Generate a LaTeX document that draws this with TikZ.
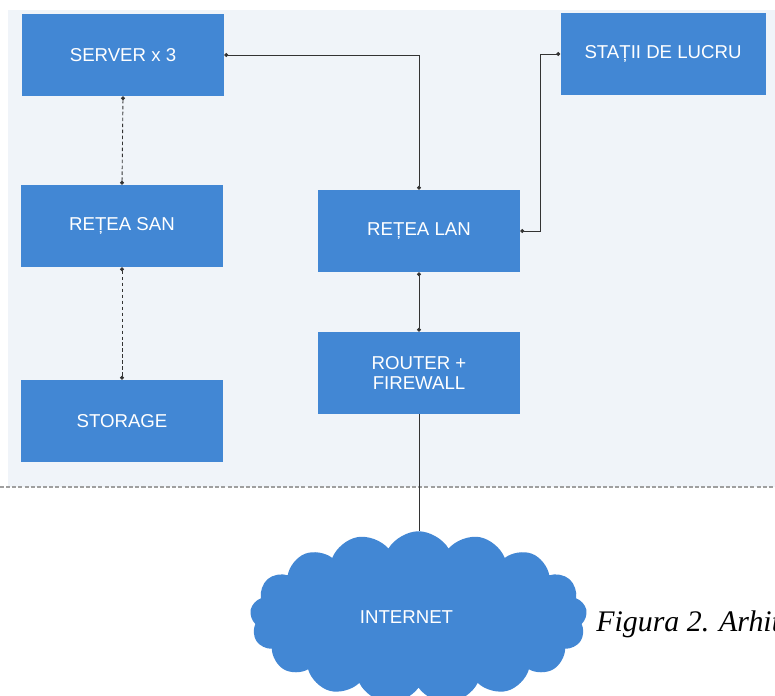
\documentclass[tikz,border=0pt]{standalone}
\usepackage{fontspec}
\setmainfont{Liberation Serif}
\newfontfamily\boxfont{Liberation Sans}
\usetikzlibrary{arrows.meta,shapes.symbols}

\definecolor{boxblue}{RGB}{66,135,212}
\definecolor{panelgrey}{RGB}{240,244,249}

\tikzset{
  netbox/.style={fill=boxblue,text=white,minimum width=4.04cm,minimum height=1.64cm,
    font=\boxfont\fontsize{10.6}{11.5}\selectfont,align=center,inner sep=0pt},
  link/.style={line width=0.5pt,draw=black!80},
  dotlink/.style={link,{Circle[length=2.2pt]}-{Circle[length=2.2pt]}},
  sanlink/.style={dotlink,dash pattern=on 2pt off 1.4pt}
}

\begin{document}
\begin{tikzpicture}
  % Page size and the grey panel above the border line.
  \useasboundingbox (0,0) rectangle (15.5,-13.9);
  \fill[white] (0,0) rectangle (15.5,-13.9);
  \fill[panelgrey] (0.16,-0.2) rectangle (15.5,-9.74);
  % Border between the local network and the outside.
  \draw[gray!75,line width=0.8pt,dash pattern=on 2.3pt off 1.2pt] (0,-9.74) -- (15.5,-9.74);
  % Servers, storage network and storage.
  \node[netbox] (server) at (2.46,-1.10) {SERVER x 3};
  \node[netbox] (san) at (2.44,-4.52) {REȚEA SAN};
  \node[netbox] (storage) at (2.44,-8.42) {STORAGE};
  % Local network, workstations and router.
  \node[netbox] (lan) at (8.38,-4.62) {REȚEA LAN};
  \node[netbox,minimum width=4.1cm] (statii) at (13.26,-1.08) {STAȚII DE LUCRU};
  \node[netbox] (router) at (8.38,-7.46) {ROUTER +\\FIREWALL};
  % The internet cloud.
  \node[cloud,cloud puffs=17,cloud puff arc=120,aspect=2,fill=boxblue,
    minimum width=6.74cm,minimum height=3.45cm,inner sep=0pt] (inet) at (8.37,-12.35) {};
  \node[text=white,font=\boxfont\fontsize{10.6}{11.5}\selectfont] (inettext) at (8.13,-12.34) {INTERNET};
  % Caption, cut by the page edge as in the source.
  \node[anchor=base west,inner sep=0pt,font=\fontsize{17}{19}\selectfont\itshape] (caption) at (11.92,-12.62) {Figura 2. Arhit};
  % Connections.
  \draw[dotlink] (server.east) -| (lan.north);
  \draw[dotlink] (lan.east) -- ++(0.4,0) |- (statii.west);
  \draw[sanlink] (server.south) -- (san.north);
  \draw[sanlink] (san.south) -- (storage.north);
  \draw[dotlink] (lan.south) -- (router.north);
  \draw[link] (router.south) -- (router.south |- inet.north);
\end{tikzpicture}
\end{document}
